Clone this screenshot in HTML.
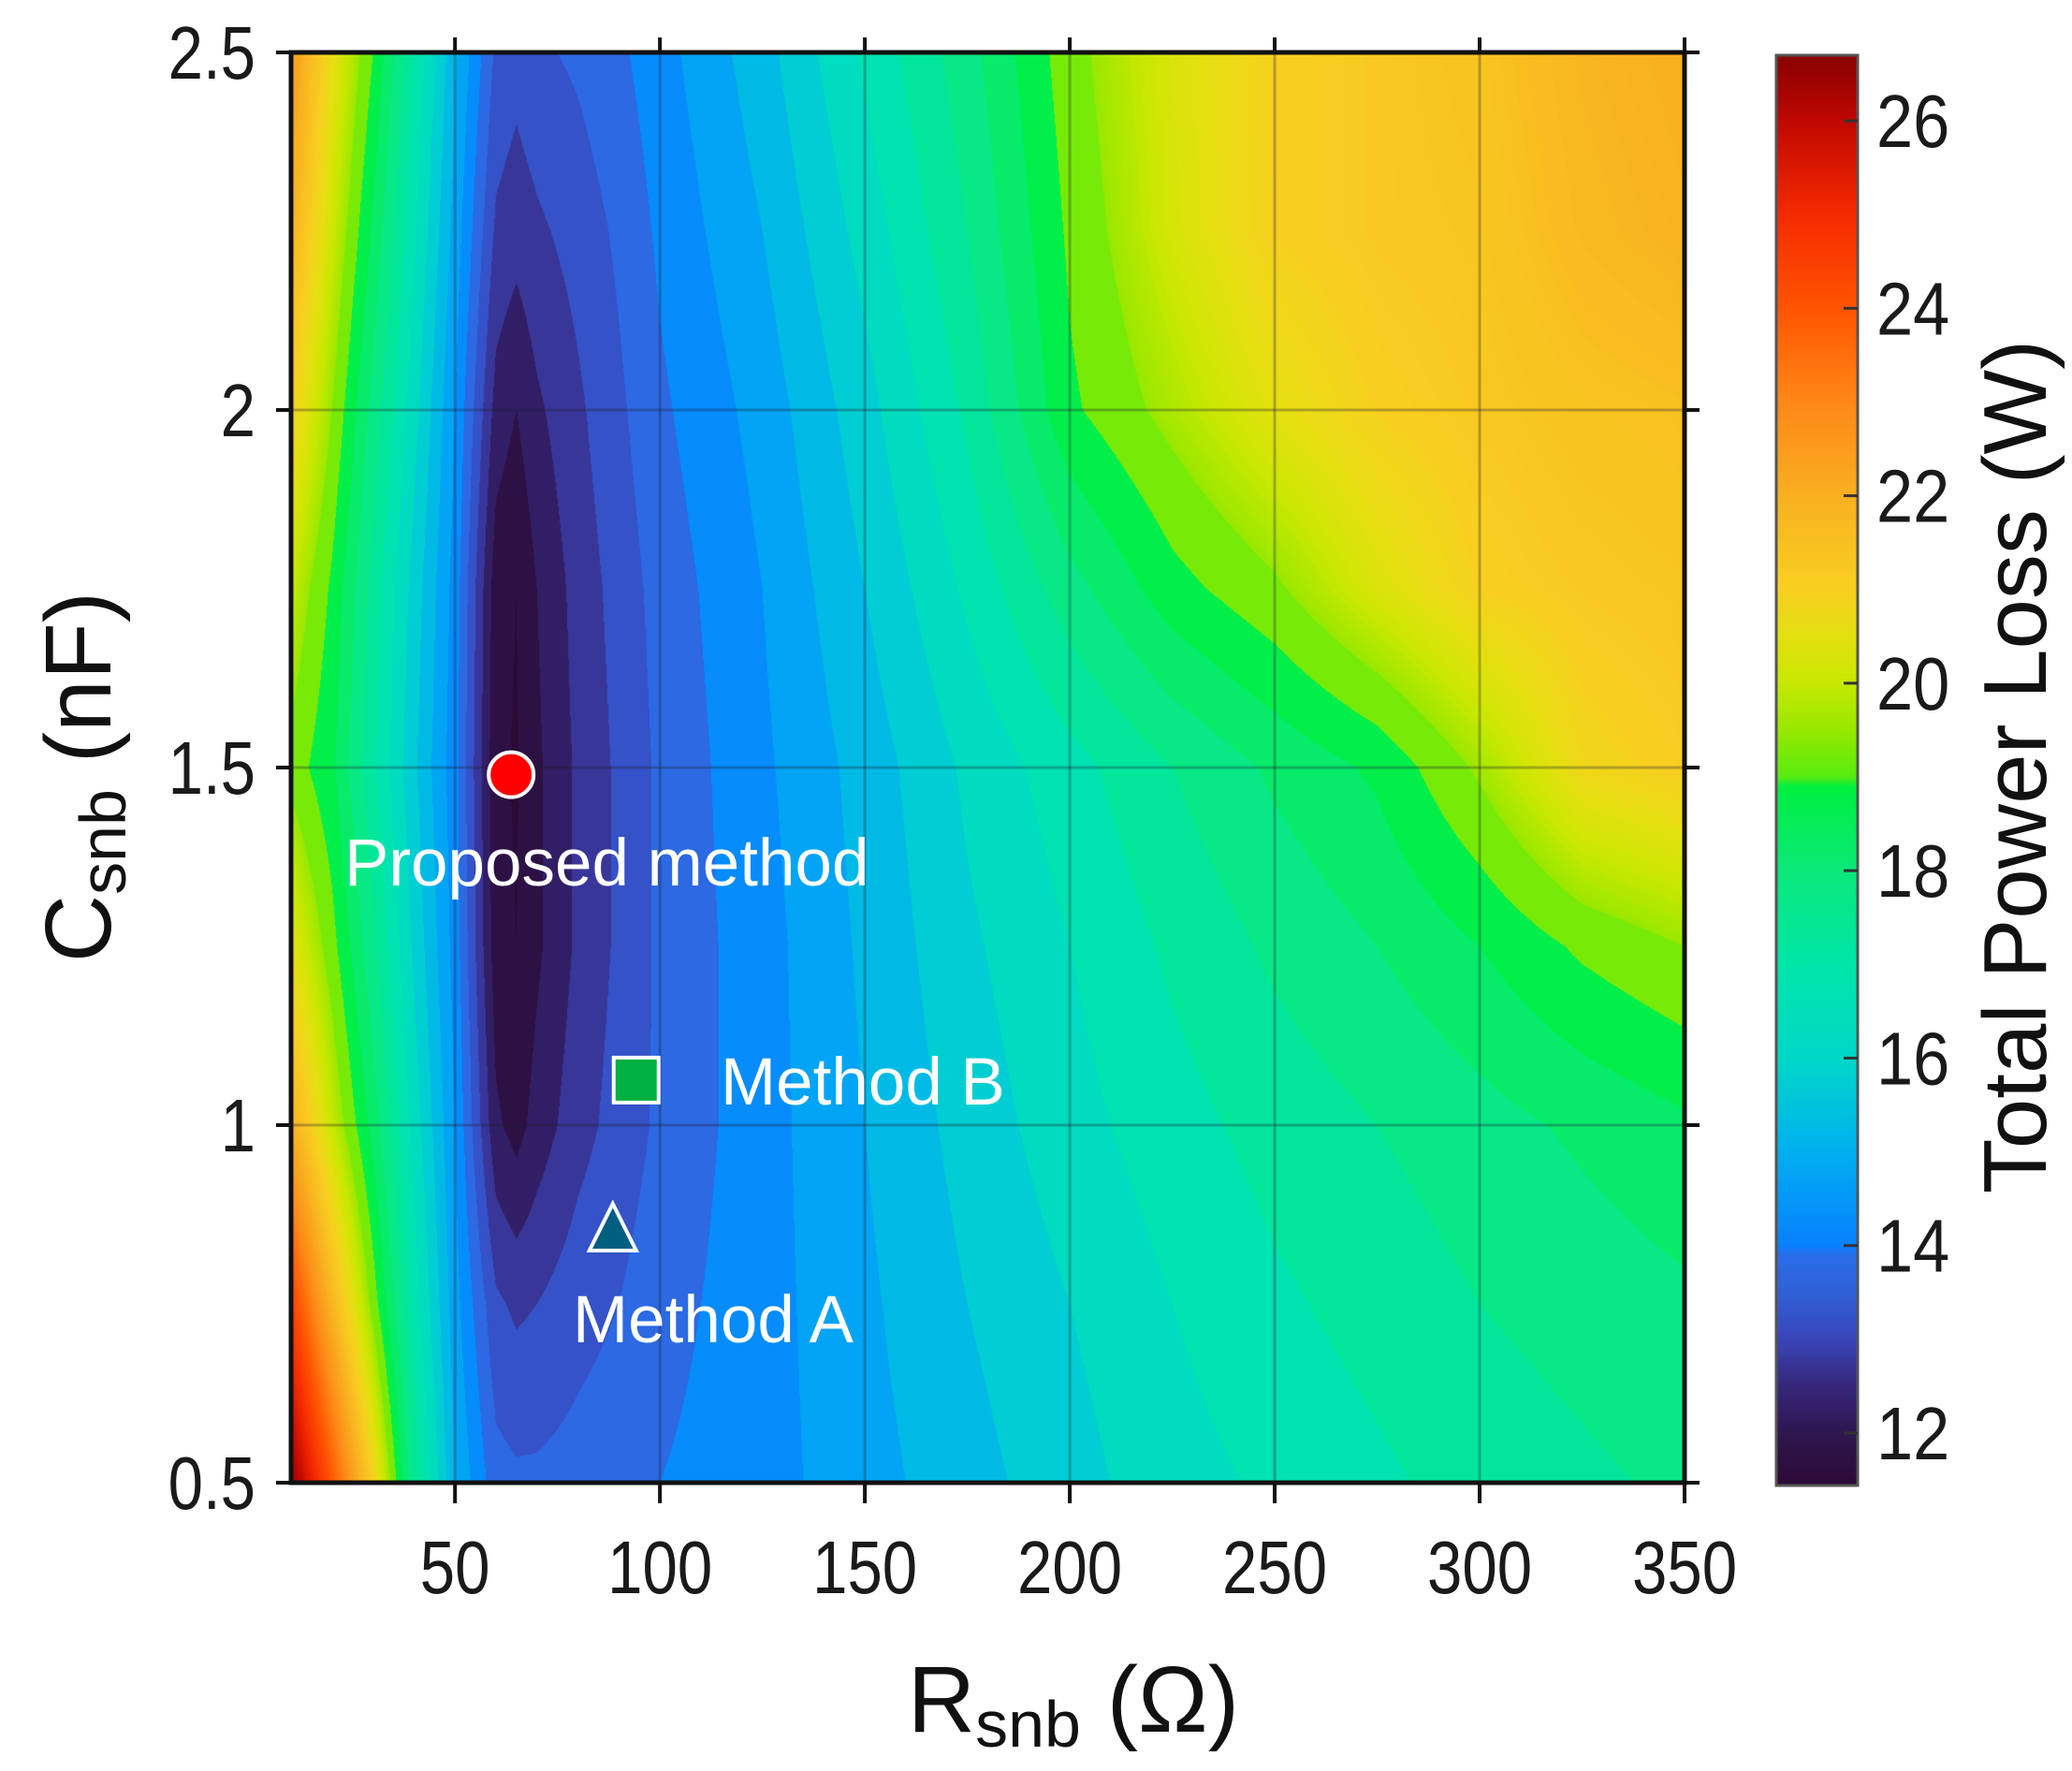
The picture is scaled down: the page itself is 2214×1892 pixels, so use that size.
<!DOCTYPE html>
<html><head><meta charset="utf-8">
<style>
html,body{margin:0;padding:0;background:#fff;}
#wrap{position:relative;width:2214px;height:1892px;overflow:hidden;background:#fff;}
canvas{position:absolute;}
svg{position:absolute;left:0;top:0;}
.tk{font-family:"Liberation Sans Narrow","Liberation Sans",sans-serif;font-size:80px;fill:#1a1a1a;}
.ttl{font-family:"Liberation Sans",sans-serif;fill:#111;}
.ann{font-family:"Liberation Sans",sans-serif;font-size:71px;fill:#fff;}
</style></head>
<body>
<div id="wrap">
<canvas id="plot" width="1489" height="1528" style="left:311px;top:56px"></canvas>
<canvas id="cbar" width="87" height="528" style="left:1898px;top:59px;width:87px;height:1528px"></canvas>
<svg id="ov" width="2214" height="1892"></svg>
</div>
<script>
const Rs=[10,20,30,40,50,60,65,70,80,90,100,125,150,175,200,225,250,275,300,325,350];
const Cs=[0.5,0.75,1,1.25,1.5,1.75,2,2.25,2.5];
const loss=[
[26.6,24,21,17.5,15,13.7,13.6,13.6,13.7,13.8,14,14.3,14.8,15.3,15.8,16.3,16.6,16.9,17.2,17.4,17.6],
[24.5,21.8,19.3,16.8,14.7,13.1,12.9,13,13.3,13.5,13.8,14.3,14.9,15.5,16,16.5,16.9,17.2,17.5,17.7,17.9],
[22,20,18.3,16.3,14.5,12.1,11.8,12.2,12.8,13.2,13.6,14.3,15,15.7,16.3,16.8,17.2,17.5,17.8,18.1,18.4],
[20.5,19.2,17.6,15.9,14.3,11.7,11.5,11.9,12.6,13.1,13.6,14.3,15.1,15.9,16.5,17.1,17.6,18,18.5,19.1,19.5],
[19.3,18.6,17.1,15.6,14.2,11.6,11.45,11.9,12.6,13.1,13.6,14.4,15.2,16.1,16.8,17.5,18.1,18.6,19.6,20.8,21.1],
[20,18.9,17.3,15.8,14.3,11.7,11.5,12,12.7,13.2,13.7,14.5,15.5,16.6,17.8,18.8,19.4,20.3,21,21.2,21.3],
[21,19.5,17.8,16.2,14.5,12.3,12,12.4,12.9,13.4,13.9,14.7,15.8,17.1,18.9,19.7,20.5,21,21.2,21.4,21.5],
[21.9,20.1,18.4,16.6,14.8,12.9,12.7,12.9,13.2,13.6,14.1,15,16.2,17.5,19.1,20.2,21,21.2,21.3,21.7,21.9],
[22.6,20.6,19,17,15.1,13.4,13.2,13.4,13.6,13.9,14.3,15.3,16.6,17.8,19.3,20.3,21,21.2,21.4,21.8,22]
];
const xTicks=[50,100,150,200,250,300,350];
const yTicks=[0.5,1,1.5,2,2.5];
const yTickLabels=["0.5","1","1.5","2","2.5"];
const cTicks=[12,14,16,18,20,22,24,26];
const methodNames=["Proposed method","Method B","Method A"];
const methodR=[63.7,94.2,88.5];
const methodC=[1.49,1.063,0.856];

const PL=311,PR=1800,PT=56,PB=1584;
const XMIN=10,XMAX=350,YMIN=0.5,YMAX=2.5;
const CMIN=11.44,CMAX=26.7;
function xs(v){return PL+(v-XMIN)/(XMAX-XMIN)*(PR-PL);}
function ys(v){return PB-(v-YMIN)/(YMAX-YMIN)*(PB-PT);}
function cs(v){return 1587-(v-CMIN)/(CMAX-CMIN)*(1587-59);}

const stops=[[11.44,"#2b0b35"],[12,"#2e1650"],[12.5,"#35277a"],[13,"#3a45b8"],[13.5,"#3060d8"],[13.9,"#2a6ee8"],[14,"#0880ff"],[15,"#00b0f0"],[16,"#00d8c8"],[17,"#00e6a8"],[18,"#0ae87a"],[18.9,"#00f040"],[19,"#58ec10"],[19.5,"#98e800"],[20,"#c8e800"],[20.5,"#e4e010"],[21,"#f8d020"],[22,"#f8b020"],[23,"#ff8818"],[24,"#ff5500"],[25,"#f52a00"],[26,"#c00800"],[26.7,"#880000"]];
const stopRGB=stops.map(s=>[s[0],parseInt(s[1].slice(1,3),16),parseInt(s[1].slice(3,5),16),parseInt(s[1].slice(5,7),16)]);
function cmap(v){
  if(v<=stopRGB[0][0])return stopRGB[0].slice(1);
  for(let i=1;i<stopRGB.length;i++){if(v<=stopRGB[i][0]){const a=stopRGB[i-1],b=stopRGB[i],t=(v-a[0])/(b[0]-a[0]);return [a[1]+(b[1]-a[1])*t,a[2]+(b[2]-a[2])*t,a[3]+(b[3]-a[3])*t];}}
  return stopRGB[stopRGB.length-1].slice(1);
}
function seg(arr,v){let i=0;while(i<arr.length-2&&v>arr[i+1])i++;return [i,Math.max(0,Math.min(1,(v-arr[i])/(arr[i+1]-arr[i])))];}

(function(){
  const cv=document.getElementById('plot'),ctx=cv.getContext('2d');
  const W=cv.width,H=cv.height,img=ctx.createImageData(W,H),d=img.data;
  const cx=[],cy=[];
  for(let x=0;x<W;x++)cx.push(seg(Rs,XMIN+(x+0.5)/W*(XMAX-XMIN)));
  for(let y=0;y<H;y++)cy.push(seg(Cs,YMAX-(y+0.5)/H*(YMAX-YMIN)));
  const lut={};
  for(let y=0;y<H;y++){const [j,ty]=cy[y];const r0=loss[j],r1=loss[j+1];
    for(let x=0;x<W;x++){const [i,tx]=cx[x];
      const v=(r0[i]*(1-tx)+r0[i+1]*tx)*(1-ty)+(r1[i]*(1-tx)+r1[i+1]*tx)*ty;
      const q=v>19.5?v:Math.floor(v*2)/2+0.25;
      const key=Math.round(q*20);
      let c=lut[key];if(!c){c=cmap(q);lut[key]=c;}
      const k=(y*W+x)*4;d[k]=c[0];d[k+1]=c[1];d[k+2]=c[2];d[k+3]=255;}}
  ctx.putImageData(img,0,0);
})();
(function(){
  const cv=document.getElementById('cbar'),ctx=cv.getContext('2d');
  for(let y=0;y<cv.height;y++){const v=CMAX-(y+0.5)/cv.height*(CMAX-CMIN);const c=cmap(v);
    ctx.fillStyle='rgb('+c.map(Math.round).join(',')+')';ctx.fillRect(0,y,cv.width,1);}
})();

const NS='http://www.w3.org/2000/svg',ov=document.getElementById('ov');
function mk(tag,attrs,parent){const e=document.createElementNS(NS,tag);for(const k in attrs)e.setAttribute(k,attrs[k]);(parent||ov).appendChild(e);return e;}

xTicks.forEach(t=>{const l=mk('line',{x1:xs(t),x2:xs(t),y1:PT,y2:PB,stroke:'rgba(30,30,50,0.3)','stroke-width':3});

});
yTicks.forEach(t=>{const l=mk('line',{x1:PL,x2:PR,y1:ys(t),y2:ys(t),stroke:'rgba(30,30,50,0.3)','stroke-width':3});

});
const fr=mk('rect',{x:PL,y:PT,width:PR-PL,height:PB-PT,fill:'none',stroke:'#111','stroke-width':5});


xTicks.forEach(t=>{
  mk('line',{x1:xs(t),x2:xs(t),y1:PB,y2:PB+22,stroke:'#111','stroke-width':4});
  mk('line',{x1:xs(t),x2:xs(t),y1:PT,y2:PT-16,stroke:'#111','stroke-width':4});
  const tx=mk('text',{transform:'translate('+xs(t)+',1702) scale(0.84,1)','text-anchor':'middle',class:'tk'});tx.textContent=t;
  
  
});
yTicks.forEach((t,i)=>{
  mk('line',{x1:PL-16,x2:PL,y1:ys(t),y2:ys(t),stroke:'#111','stroke-width':4});
  mk('line',{x1:PR,x2:PR+16,y1:ys(t),y2:ys(t),stroke:'#111','stroke-width':4});
  const tx=mk('text',{transform:'translate(273,'+(ys(t)+28)+') scale(0.84,1)','text-anchor':'end',class:'tk'});tx.textContent=yTickLabels[i];
  
  
});
const cbf=mk('rect',{x:1898,y:59,width:87,height:1528,fill:'none',stroke:'#555','stroke-width':3});


cTicks.forEach(t=>{
  mk('line',{x1:1970,x2:1985,y1:cs(t),y2:cs(t),stroke:'#333','stroke-width':3});
  const tx=mk('text',{transform:'translate(2005,'+(cs(t)+28)+') scale(0.88,1)',class:'tk'});tx.textContent=t;
  
  
});
const shapes=['circle','square','triangle'];
methodR.forEach((r,i)=>{
  const x=xs(r),y=ys(methodC[i]);let m;
  if(shapes[i]==='circle')m=mk('circle',{cx:x,cy:y,r:24,fill:'#ff0000',stroke:'#fff','stroke-width':4});
  else if(shapes[i]==='square')m=mk('rect',{x:x-24,y:y-24,width:48,height:48,fill:'#00b040',stroke:'#fff','stroke-width':4});
  else m=mk('polygon',{points:(x)+','+(y-26)+' '+(x+25)+','+(y+24)+' '+(x-25)+','+(y+24),fill:'#005f80',stroke:'#fff','stroke-width':4});
  
  
});
</script>
<svg width="2214" height="1892" style="position:absolute;left:0;top:0">
<text class="ann" x="368" y="946">Proposed method</text>
<text class="ann" x="770" y="1180">Method B</text>
<text class="ann" x="612" y="1434">Method A</text>
<text class="ttl" x="1147" y="1850" text-anchor="middle" font-size="100">R<tspan font-size="70" dy="16">snb</tspan><tspan dy="-16"> (Ω)</tspan></text>
<text class="ttl" transform="translate(118,830) rotate(-90)" text-anchor="middle" font-size="100">C<tspan font-size="70" dy="16">snb</tspan><tspan dy="-16"> (nF)</tspan></text>
<text class="ttl" transform="translate(2186,819) rotate(-90)" text-anchor="middle" font-size="96">Total Power Loss (W)</text>
</svg>
</body></html>
